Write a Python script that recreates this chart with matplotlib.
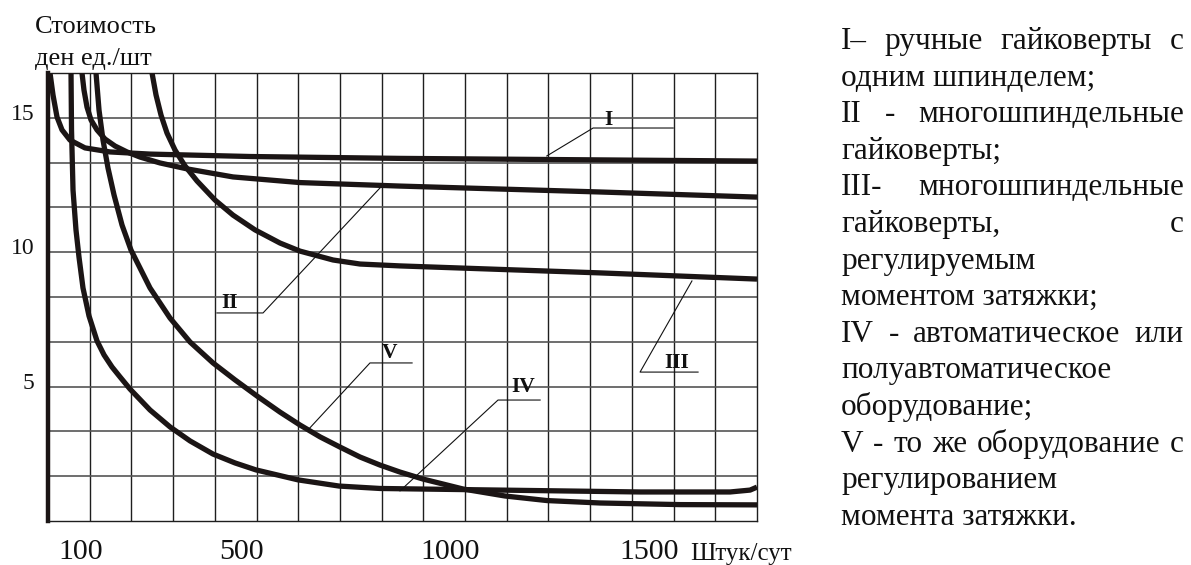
import numpy as np
import matplotlib
matplotlib.use("Agg")
import matplotlib.pyplot as plt
from matplotlib.transforms import ScaledTranslation, IdentityTransform

# ---- data: cost per piece vs. daily output ----
x_I = [4.8, 12.0, 21.6, 33.6, 52.8, 88.7, 148.7, 244.6, 484.4, 844.1, 1700]
y_I = [16.67, 15.85, 15.03, 14.55, 14.17, 13.88, 13.73, 13.65, 13.56, 13.49, 13.39]

x_II = [81.5, 86.3, 93.5, 103.1, 117.5, 136.7, 160.7, 189.4, 220.6, 268.6, 333.3, 443.6,
        604.3, 844.1, 1323.7, 1700]
y_II = [16.67, 16.03, 15.40, 14.92, 14.55, 14.21, 13.95, 13.73, 13.54, 13.32, 13.10, 12.80,
        12.59, 12.46, 12.24, 12.05]

x_III = [249.4, 259.0, 271.0, 285.4, 304.6, 328.5, 357.3, 400.5, 443.6, 496.4, 556.4, 604.3,
         683.5, 748.2, 844.1, 1323.7, 1700]
y_III = [16.67, 15.85, 15.10, 14.43, 13.80, 13.21, 12.65, 11.94, 11.38, 10.83, 10.34, 10.04,
         9.71, 9.56, 9.49, 9.23, 9.00]

x_IV = [55.2, 56.4, 60.0, 67.1, 74.3, 83.9, 98.3, 117.5, 134.3, 153.5, 172.7, 196.6, 244.6,
        292.6, 340.5, 395.7, 448.4, 498.8, 599.5, 697.8, 796.2, 1083.9, 1419.6, 1635.4,
        1683.4, 1700]
y_IV = [16.67, 14.55, 12.31, 10.83, 9.82, 8.67, 7.63, 6.70, 6.18, 5.73, 5.36, 4.91, 4.13,
        3.50, 2.98, 2.49, 2.16, 1.90, 1.53, 1.30, 1.21, 1.15, 1.08, 1.08,
        1.15, 1.26]

x_V = [115.1, 122.3, 131.9, 143.9, 158.3, 177.5, 199.0, 244.6, 292.6, 340.5, 395.7, 448.4,
       501.2, 556.4, 604.3, 652.3, 700.2, 748.2, 796.2, 844.1, 899.3, 995.2, 1095.9, 1196.6,
       1323.7, 1515.6, 1700]
y_V = [16.67, 15.29, 14.17, 13.13, 12.13, 11.01, 10.08, 8.67, 7.55, 6.66, 5.88, 5.25,
       4.65, 4.05, 3.57, 3.13, 2.75, 2.38, 2.08, 1.82, 1.56, 1.19, 0.93, 0.76,
       0.67, 0.61, 0.60]

x_ticks = [100, 500, 1000, 1500]
x_tick_labels = ["100", "500", "1000", "1500"]
y_ticks = [5, 10, 15]
y_tick_labels = ["5", "10", "15"]

curve_names = ["I", "II", "III", "IV", "V"]

legend_lines = [
    ("I– ручные гайковерты с", True),
    ("одним шпинделем;", False),
    ("II - многошпиндельные", True),
    ("гайковерты;", False),
    ("III- многошпиндельные", True),
    ("гайковерты, с", True),
    ("регулируемым", False),
    ("моментом затяжки;", False),
    ("IV - автоматическое или", True),
    ("полуавтоматическое", False),
    ("оборудование;", False),
    ("V - то же оборудование с", True),
    ("регулированием", False),
    ("момента затяжки.", False),
]

# ---- figure ----
W, H, DPI = 1191, 565, 100
SERIF = "Liberation Serif"
INK = "#1b1515"

fig = plt.figure(figsize=(W / DPI, H / DPI), dpi=DPI)
fig.patch.set_facecolor("white")
ax = fig.add_axes([48 / W, 1 - 521 / H, (757 - 48) / W, (521 - 73) / H])

XMAX, YMAX = 1700, 50 / 3
ax.set_xlim(0, XMAX)
ax.set_ylim(0, YMAX)

# grid: 100 pieces per column, 5/3 cost units per row
for gx in np.arange(100, XMAX, 100):
    ax.axvline(gx, color="#1e1e1e", lw=1.0, zorder=1)
for gy in np.arange(1, 10) * (5 / 3):
    ax.axhline(gy, color="#555555", lw=1.2, zorder=1)

for xs, ys in [(x_I, y_I), (x_II, y_II), (x_III, y_III), (x_IV, y_IV), (x_V, y_V)]:
    ax.plot(xs, ys, color=INK, lw=3.8, solid_joinstyle="round",
            solid_capstyle="butt", zorder=3)

# curve labels with leader lines (text pos, elbow, end, point on curve)
labels = {
    "I": ((1343, 14.73), (1307, 14.62), (1499, 14.62), (1196, 13.58)),
    "II": ((436, 7.92), (515.6, 7.74), (405, 7.74), (796, 12.39)),
    "III": ((1508, 5.69), (1419.6, 5.54), (1558.7, 5.54), (1544, 8.93)),
    "IV": ((1139, 4.80), (1079, 4.50), (1180, 4.50), (844, 1.12)),
    "V": ((820, 6.06), (772, 5.88), (873, 5.88), (623.5, 3.39)),
}
for name in curve_names:
    (tx, ty), elbow, end, on_curve = labels[name]
    ax.plot([on_curve[0], elbow[0], end[0]], [on_curve[1], elbow[1], end[1]],
            color="#111111", lw=0.8, zorder=4)
    ax.text(tx, ty, name, ha="center", va="baseline", fontsize=15.5,
            fontweight="bold", family=SERIF, color="#111111", zorder=5)

# spines
for side in ["top", "right", "bottom"]:
    ax.spines[side].set_linewidth(1.0)
    ax.spines[side].set_color("#1e1e1e")
ax.spines["left"].set_linewidth(3.2)
ax.spines["left"].set_color(INK)

ax.set_xticks(x_ticks)
ax.set_xticklabels(x_tick_labels, fontsize=21.5, family=SERIF)
ax.set_yticks(y_ticks)
ax.set_yticklabels(y_tick_labels, fontsize=17, family=SERIF, va="baseline")
ax.tick_params(axis="both", length=0, colors="#111111")
ax.tick_params(axis="x", pad=13)
ax.tick_params(axis="y", pad=10)
for lbl, shift in zip(ax.get_xticklabels(), [-9, -15, -15, -24]):
    lbl.set_transform(lbl.get_transform()
                      + ScaledTranslation(shift / DPI, 0, fig.dpi_scale_trans))
for lbl in ax.get_yticklabels():
    lbl.set_transform(lbl.get_transform()
                      + ScaledTranslation(0, -2 / DPI, fig.dpi_scale_trans))

px = IdentityTransform()
fig.text(690, H - 560, "Штук/сут", transform=px, fontsize=18, family=SERIF,
         va="baseline", ha="left", color="#111111")
fig.text(35, H - 33, "Стоимость", transform=px, fontsize=19, family=SERIF,
         va="baseline", ha="left", color="#111111")
fig.text(35, H - 65, "ден ед./шт", transform=px, fontsize=19, family=SERIF,
         va="baseline", ha="left", color="#111111")

# justified legend paragraph
LEFT, RIGHT = 841, 1184
renderer = fig.canvas.get_renderer()
baseline = 49
for text, justify in legend_lines:
    y = H - baseline
    if justify:
        words = text.split(" ")
        items = [fig.text(0, y, w, transform=px, fontsize=22.5, family=SERIF,
                          va="baseline", ha="left", color="#111111") for w in words]
        widths = [t.get_window_extent(renderer).width for t in items]
        gap = (RIGHT - LEFT - sum(widths)) / (len(words) - 1)
        xpos = LEFT
        for t, w in zip(items, widths):
            t.set_position((xpos, y))
            xpos += w + gap
    else:
        fig.text(LEFT, y, text, transform=px, fontsize=22.5, family=SERIF,
                 va="baseline", ha="left", color="#111111")
    baseline += 36.6

fig.savefig("out.png", dpi=DPI, facecolor="white")
